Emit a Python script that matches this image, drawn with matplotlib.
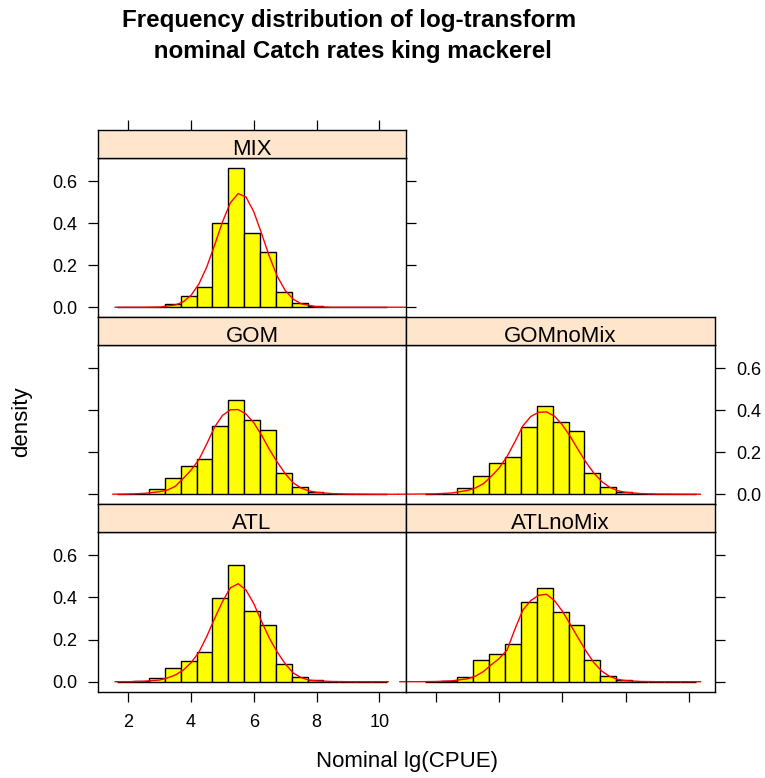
import numpy as np
import matplotlib
matplotlib.use("Agg")
import matplotlib.pyplot as plt

plt.rcParams['font.family'] = ['Liberation Sans', 'DejaVu Sans']

# ---------------- data ----------------
panels = ["MIX", "GOM", "GOMnoMix", "ATL", "ATLnoMix"]

# histogram breaks (17 equal bins over the pooled data range)
break_lo, break_hi, n_bins = 1.645, 10.24, 17

mix_density = [0, 0, 0, 0.016, 0.054, 0.094, 0.400, 0.662, 0.352, 0.265, 0.073, 0.019, 0.006, 0, 0, 0, 0]
gom_density = [0, 0.003, 0.025, 0.079, 0.135, 0.168, 0.325, 0.448, 0.352, 0.305, 0.100, 0.033, 0.013, 0.003, 0, 0, 0]
gomnomix_density = [0, 0.003, 0.028, 0.089, 0.150, 0.178, 0.319, 0.421, 0.346, 0.303, 0.100, 0.033, 0.013, 0.003, 0, 0, 0]
atl_density = [0, 0.002, 0.016, 0.063, 0.098, 0.140, 0.397, 0.556, 0.337, 0.268, 0.084, 0.022, 0.008, 0, 0, 0, 0]
atlnomix_density = [0, 0.002, 0.022, 0.105, 0.130, 0.178, 0.376, 0.444, 0.330, 0.267, 0.105, 0.027, 0.006, 0, 0, 0, 0]

# smooth density curves
mix_curve_x = [1.58, 2.5, 3.0, 3.5, 3.75, 4.0, 4.25, 4.5, 4.75, 5.0, 5.25, 5.5, 5.75, 6.0, 6.25, 6.5, 6.75, 7.0, 7.25, 7.5, 8.0, 8.5, 9.5, 10.84]
mix_curve_y = [0.0, 0.0, 0.001, 0.011, 0.026, 0.057, 0.111, 0.192, 0.296, 0.406, 0.497, 0.541, 0.525, 0.454, 0.349, 0.240, 0.146, 0.080, 0.039, 0.017, 0.002, 0.0, 0.0, 0.0]

gom_curve_x = [1.51, 2.0, 2.5, 3.0, 3.25, 3.5, 3.75, 4.0, 4.25, 4.5, 4.75, 5.0, 5.25, 5.5, 5.75, 6.0, 6.25, 6.5, 6.75, 7.0, 7.25, 7.5, 7.75, 8.0, 8.5, 9.0, 10.0, 10.6]
gom_curve_y = [0.0, 0.001, 0.004, 0.012, 0.020, 0.038, 0.075, 0.115, 0.165, 0.240, 0.320, 0.375, 0.402, 0.403, 0.382, 0.340, 0.280, 0.212, 0.152, 0.098, 0.055, 0.030, 0.016, 0.009, 0.003, 0.001, 0.0, 0.0]

gomnomix_curve_x = [0.82, 1.5, 2.0, 2.5, 3.0, 3.25, 3.5, 3.75, 4.0, 4.25, 4.5, 4.75, 5.0, 5.25, 5.5, 5.75, 6.0, 6.25, 6.5, 6.75, 7.0, 7.25, 7.5, 7.75, 8.0, 8.5, 9.0, 10.37]
gomnomix_curve_y = [0.0, 0.001, 0.002, 0.006, 0.018, 0.030, 0.050, 0.085, 0.125, 0.180, 0.250, 0.325, 0.370, 0.390, 0.392, 0.372, 0.330, 0.275, 0.212, 0.152, 0.100, 0.060, 0.033, 0.017, 0.009, 0.003, 0.001, 0.0]

atl_curve_x = [1.58, 2.0, 2.5, 3.0, 3.25, 3.5, 3.75, 4.0, 4.25, 4.5, 4.75, 5.0, 5.25, 5.5, 5.75, 6.0, 6.25, 6.5, 6.75, 7.0, 7.25, 7.5, 7.75, 8.0, 8.5, 9.0, 10.28]
atl_curve_y = [0.0, 0.0, 0.002, 0.008, 0.018, 0.032, 0.055, 0.090, 0.140, 0.215, 0.300, 0.380, 0.445, 0.465, 0.435, 0.370, 0.285, 0.205, 0.140, 0.085, 0.042, 0.020, 0.008, 0.004, 0.001, 0.0, 0.0]

atlnomix_curve_x = [0.86, 1.5, 2.0, 2.5, 3.0, 3.25, 3.5, 3.75, 4.0, 4.25, 4.5, 4.75, 5.0, 5.25, 5.5, 5.75, 6.0, 6.25, 6.5, 6.75, 7.0, 7.25, 7.5, 7.75, 8.0, 8.5, 9.0, 10.37]
atlnomix_curve_y = [0.0, 0.0, 0.001, 0.004, 0.014, 0.026, 0.048, 0.080, 0.110, 0.150, 0.250, 0.340, 0.385, 0.410, 0.415, 0.385, 0.335, 0.272, 0.208, 0.145, 0.090, 0.050, 0.025, 0.011, 0.005, 0.001, 0.0, 0.0]

x_ticks = [2, 4, 6, 8, 10]
y_ticks = [0.0, 0.2, 0.4, 0.6]
y_tick_labels = ["0.0", "0.2", "0.4", "0.6"]

title = "Frequency distribution of log-transform\n nominal Catch rates king mackerel"
x_label = "Nominal lg(CPUE)"
y_label = "density"

# ---------------- layout ----------------
W, H = 765, 778
fig = plt.figure(figsize=(W / 100, H / 100), dpi=100)


def rect(x0, y0, x1, y1):
    return [x0 / W, 1 - y1 / H, (x1 - x0) / W, (y1 - y0) / H]


cols = [(98.3, 405.7), (405.7, 715.3)]
rows = [(130, 158, 317), (317, 345, 504), (504, 532, 691.5)]
XLIM = (1.043, 10.84)
YLIM = (-0.0465, 0.7105)
STRIP_BG = "#FFE5CC"
TICK_LEN = 7.2

edges = np.linspace(break_lo, break_hi, n_bins + 1)

specs = {
    # name: (row, col, heights, curve_x, curve_y, sides)
    "MIX": (0, 0, mix_density, mix_curve_x, mix_curve_y,
            dict(left="label", right="tick", bottom=None, top="tick")),
    "GOM": (1, 0, gom_density, gom_curve_x, gom_curve_y,
            dict(left="tick", right=None, bottom=None, top=None)),
    "GOMnoMix": (1, 1, gomnomix_density, gomnomix_curve_x, gomnomix_curve_y,
                 dict(left=None, right="label", bottom=None, top=None)),
    "ATL": (2, 0, atl_density, atl_curve_x, atl_curve_y,
            dict(left="label", right=None, bottom="label", top=None)),
    "ATLnoMix": (2, 1, atlnomix_density, atlnomix_curve_x, atlnomix_curve_y,
                 dict(left=None, right="tick", bottom="tick", top=None)),
}

for name in panels:
    r, c, heights, cx, cy, sides = specs[name]
    x0, x1 = cols[c]
    s_top, p_top, p_bot = rows[r]

    ax = fig.add_axes(rect(x0, p_top, x1, p_bot))
    ax.set_xlim(*XLIM)
    ax.set_ylim(*YLIM)
    ax.bar(edges[:-1], heights, width=np.diff(edges), align="edge",
           color="#FFFF00", edgecolor="black", linewidth=1.0, zorder=2)
    ax.plot(cx, cy, color="red", lw=1.0, zorder=3, clip_on=False)
    for sp in ax.spines.values():
        sp.set_linewidth(1.0)
        sp.set_zorder(4)

    ax.set_xticks(x_ticks)
    ax.set_yticks(y_ticks)
    ax.set_yticklabels(y_tick_labels)
    ax.tick_params(direction="out", length=TICK_LEN, width=0.9, labelsize=13,
                   colors="black")
    ax.tick_params(axis="y", pad=8)
    ax.tick_params(axis="x", pad=9)
    ax.tick_params(left=sides["left"] is not None, labelleft=sides["left"] == "label",
                   right=sides["right"] is not None, labelright=sides["right"] == "label",
                   bottom=sides["bottom"] is not None, labelbottom=sides["bottom"] == "label",
                   top=False, labeltop=False)

    sax = fig.add_axes(rect(x0, s_top, x1, p_top))
    sax.set_facecolor(STRIP_BG)
    sax.set_xlim(*XLIM)
    sax.set_ylim(0, 1)
    sax.set_yticks([])
    sax.set_xticks(x_ticks)
    sax.tick_params(direction="out", length=TICK_LEN, width=0.9,
                    bottom=False, labelbottom=False,
                    top=sides["top"] is not None, labeltop=False)
    for sp in sax.spines.values():
        sp.set_linewidth(1.0)
    sax.text(0.5, 0.10, name, transform=sax.transAxes, ha="center", va="baseline",
             fontsize=16)

fig.text(349 / W, 1 - 36 / H, title, ha="center", va="center", fontsize=17.4,
         fontweight="bold", linespacing=1.45)
fig.text(406.5 / W, 1 - 762 / H, x_label, ha="center", va="center", fontsize=16)
fig.text(22 / W, 1 - 422 / H, y_label, ha="center", va="center", fontsize=16,
         rotation=90)

fig.savefig("out.png", dpi=100)
